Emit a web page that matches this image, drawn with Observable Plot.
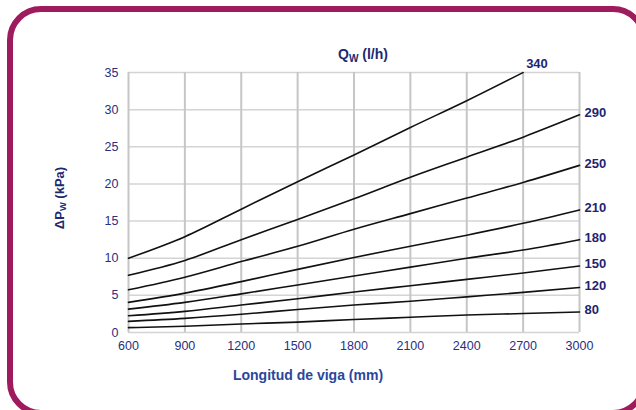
<!DOCTYPE html>
<html>
<head>
<meta charset="utf-8">
<script src="https://cdn.jsdelivr.net/npm/d3@7"></script>
<script src="https://cdn.jsdelivr.net/npm/@observablehq/plot@0.6"></script>
<style>
  html, body { margin: 0; padding: 0; background: #fff; }
  #wrap { position: relative; width: 636px; height: 410px; overflow: hidden; font-family: "Liberation Sans", Arial, sans-serif; }
  #frame { position: absolute; left: 7px; top: 6px; width: 640px; height: 410px; border: 6px solid #9e1b5e; border-radius: 34px; box-sizing: border-box; pointer-events: none; z-index: 2; }
  .lbl { position: absolute; font-weight: bold; white-space: nowrap; z-index: 3; }
  .lbl sub { font-size: 72%; vertical-align: -0.25em; }
  #title { left: 363px; top: 55px; transform: translate(-50%, -50%); font-size: 14px; color: #1c2a70; }
  #xlab { left: 308px; top: 375px; transform: translate(-50%, -50%); font-size: 14px; color: #2a469c; }
  #ylab { left: 60px; top: 198px; transform: translate(-50%, -50%) rotate(-90deg); font-size: 13px; color: #1c2a70; }
</style>
</head>
<body>
<div id="wrap">
  <div id="frame"></div>
  <div id="chart"></div>
  <div class="lbl" id="title">Q<sub>W</sub> (l/h)</div>
  <div class="lbl" id="ylab">ΔP<sub>W</sub> (kPa)</div>
  <div class="lbl" id="xlab">Longitud de viga (mm)</div>
</div>
<script>
// Beam length (mm)
const lengths = [600, 900, 1200, 1500, 1800, 2100, 2400, 2700, 3000];
const xTicks = [600, 900, 1200, 1500, 1800, 2100, 2400, 2700, 3000];
const yTicks = [0, 5, 10, 15, 20, 25, 30, 35];
// Flow rates Qw (l/h)
const flows = [340, 290, 250, 210, 180, 150, 120, 80];
// Pressure drop ΔPw (kPa) per flow rate
const q340 = [10.0, 12.9, 16.6, 20.3, 23.9, 27.6, 31.2, 35.0];
const q290 = [7.7, 9.7, 12.5, 15.2, 18.0, 20.9, 23.6, 26.3, 29.3];
const q250 = [5.75, 7.45, 9.55, 11.6, 13.9, 16.0, 18.1, 20.2, 22.5];
const q210 = [4.05, 5.3, 6.85, 8.5, 10.1, 11.6, 13.1, 14.7, 16.5];
const q180 = [3.15, 4.05, 5.2, 6.4, 7.6, 8.8, 10.0, 11.1, 12.5];
const q150 = [2.25, 2.85, 3.7, 4.55, 5.45, 6.3, 7.15, 8.0, 8.95];
const q120 = [1.5, 1.9, 2.45, 3.1, 3.7, 4.2, 4.8, 5.4, 6.05];
const q80  = [0.65, 0.85, 1.15, 1.4, 1.75, 2.05, 2.35, 2.55, 2.75];

const seriesValues = [q340, q290, q250, q210, q180, q150, q120, q80];
const rows = [];
seriesValues.forEach((vals, i) => {
  vals.forEach((v, j) => rows.push({q: flows[i], x: lengths[j], y: v}));
});
const ends = seriesValues.map((vals, i) => ({q: flows[i], x: lengths[vals.length - 1], y: vals[vals.length - 1]}));
const endTop = ends.filter(d => d.q === 340);
const endRest = ends.filter(d => d.q !== 340);

const tickColor = "#2a2f80";
const plot = Plot.plot({
  width: 636,
  height: 410,
  marginLeft: 128,
  marginRight: 57,
  marginTop: 72,
  marginBottom: 78,
  style: { fontFamily: "Liberation Sans, Arial, sans-serif", fontSize: "12px", background: "transparent", overflow: "visible" },
  x: { domain: [600, 3000], ticks: xTicks },
  y: { domain: [0, 35], ticks: yTicks },
  marks: [
    Plot.ruleY(yTicks, { stroke: "#d4d4d4", strokeWidth: 1.5 }),
    Plot.ruleX(xTicks, { stroke: "#c6c6c6", strokeWidth: 2 }),
    Plot.axisX({ ticks: xTicks, tickSize: 0, tickPadding: 9, label: null, fill: tickColor, fontSize: 12.5, tickFormat: d => String(d) }),
    Plot.axisY({ ticks: yTicks, tickSize: 0, tickPadding: 10, label: null, fill: tickColor, fontSize: 12.5 }),
    Plot.line(rows, { x: "x", y: "y", z: "q", stroke: "#111", strokeWidth: 1.6, curve: "monotone-x" }),
    Plot.text(endRest, { x: "x", y: "y", text: d => String(d.q), textAnchor: "start", dx: 5, dy: -2, fontWeight: "bold", fontSize: 13, fill: "#1e2570" }),
    Plot.text(endTop, { x: "x", y: "y", text: d => String(d.q), textAnchor: "start", dx: 3, dy: -9, fontWeight: "bold", fontSize: 13, fill: "#1e2570" })
  ]
});
document.getElementById("chart").appendChild(plot);
</script>
</body>
</html>
